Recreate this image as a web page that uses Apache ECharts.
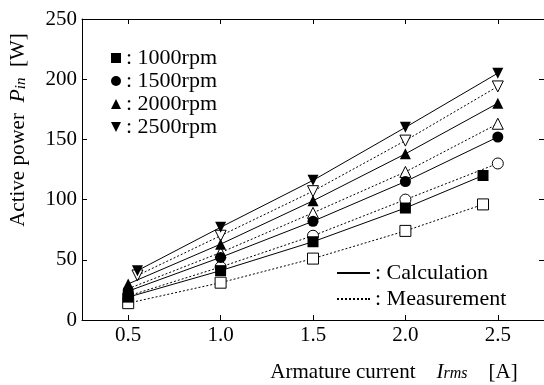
<!DOCTYPE html>
<html>
<head>
<meta charset="utf-8">
<script src="https://cdn.jsdelivr.net/npm/echarts@6/dist/echarts.min.js"></script>
<style>
  html, body { margin: 0; padding: 0; background: #fff; }
  #main { width: 544px; height: 385px; }
</style>
</head>
<body>
<div id="main"></div>
<script>
// tick positions on the current axis
const xTicks = [0.5, 1.0, 1.5, 2.0, 2.5];
const speeds = ['1000rpm', '1500rpm', '2000rpm', '2500rpm'];
const lineKinds = ['Calculation', 'Measurement'];

// [current A, power W]
const calc1000 = [[0.5, 19], [1.0, 41], [1.5, 65], [2.0, 93], [2.42, 120]];
const meas1000 = [[0.5, 14], [1.0, 31], [1.5, 51], [2.0, 74], [2.42, 96]];
const calc1500 = [[0.5, 24], [1.0, 52], [1.5, 82], [2.0, 115], [2.5, 152]];
const meas1500 = [[0.5, 20], [1.0, 44], [1.5, 70], [2.0, 100], [2.5, 130]];
const calc2000 = [[0.5, 30], [1.0, 63], [1.5, 99], [2.0, 138], [2.5, 180]];
const meas2000 = [[0.5, 26], [1.0, 56], [1.5, 89], [2.0, 123], [2.5, 163]];
const calc2500 = [[0.55, 41], [1.0, 77], [1.5, 116], [2.0, 160], [2.5, 205]];
const meas2500 = [[0.55, 37], [1.0, 70], [1.5, 107], [2.0, 149], [2.5, 194]];

const calcData = [calc1000, calc1500, calc2000, calc2500];
const measData = [meas1000, meas1500, meas2000, meas2500];

const FONT = "'Liberation Serif', 'Times New Roman', serif";
const markers = ['rect', 'circle', 'triangle', 'path://M0,0L10,0L5,10Z'];
// legend icons for the two line styles
const solidIcon = 'path://M0,0h33v1.6h-33z';
const dottedIcon = 'path://M0,0h2v1h-2zM4,0h2v1h-2zM8,0h2v1h-2zM12,0h2v1h-2zM16,0h2v1h-2zM20,0h2v1h-2zM24,0h2v1h-2zM28,0h2v1h-2zM31,0h2v1h-2z';

const chart = echarts.init(document.getElementById('main'), null, { renderer: 'canvas' });

const series = [];
speeds.forEach((s, i) => {
  // calculation: filled marker, solid line
  series.push({
    name: s,
    type: 'line',
    data: calcData[i],
    symbol: markers[i],
    symbolSize: 11,
    lineStyle: { color: '#000', width: 1 },
    itemStyle: { color: '#000' },
    z: 3,
  });
  // measurement: open marker, dotted line
  series.push({
    name: s + ' meas',
    type: 'line',
    data: measData[i],
    symbol: markers[i],
    symbolSize: 11,
    lineStyle: { color: '#000', width: 1, type: [2, 2] },
    itemStyle: { color: '#fff', borderColor: '#000', borderWidth: 1 },
    z: 2,
  });
});
// empty series, only for the line-style legend
lineKinds.forEach(k => {
  series.push({ name: k, type: 'line', data: [], symbol: 'none', itemStyle: { color: '#000' }, lineStyle: { color: '#000' } });
});

const axisText = { color: '#000', fontFamily: FONT, fontSize: 21 };
const boxLine = { onZero: false, lineStyle: { color: '#000', width: 1 } };
const inTick = { show: true, inside: true, length: 5, lineStyle: { color: '#000' } };

chart.setOption({
  animation: false,
  backgroundColor: '#fff',
  grid: { left: 82, top: 19, right: -1, bottom: 65 },
  xAxis: [
    {
      type: 'value', min: 0.25, max: 2.75, position: 'bottom',
      axisLine: boxLine,
      axisTick: { ...inTick, customValues: xTicks },
      axisLabel: { ...axisText, margin: 5, customValues: xTicks, formatter: v => v.toFixed(1) },
      splitLine: { show: false },
    },
    {
      type: 'value', min: 0.25, max: 2.75, position: 'top',
      axisLine: boxLine,
      axisTick: { ...inTick, customValues: xTicks },
      axisLabel: { show: false },
      splitLine: { show: false },
    },
  ],
  yAxis: [
    {
      type: 'value', min: 0, max: 250, interval: 50, position: 'left',
      axisLine: { show: true, ...boxLine },
      axisTick: inTick,
      axisLabel: { ...axisText, margin: 5 },
      splitLine: { show: false },
    },
    {
      type: 'value', min: 0, max: 250, interval: 50, position: 'right',
      axisLine: { show: true, ...boxLine },
      axisTick: inTick,
      axisLabel: { show: false },
      splitLine: { show: false },
    },
  ],
  legend: [
    {
      orient: 'vertical', left: 106, top: 42,
      itemWidth: 10, itemHeight: 10, itemGap: 1,
      selectedMode: false,
      data: speeds.map((s, i) => ({ name: s, icon: markers[i] })),
      formatter: ': {name}',
      textStyle: { color: '#000', fontFamily: FONT, fontSize: 22, lineHeight: 21 },
    },
    {
      orient: 'vertical', left: 332, top: 257,
      itemWidth: 33, itemHeight: 2, itemGap: 4,
      symbolKeepAspect: false,
      selectedMode: false,
      data: [{ name: lineKinds[0], icon: solidIcon }, { name: lineKinds[1], icon: dottedIcon }],
      formatter: ': {name}',
      textStyle: { color: '#000', fontFamily: FONT, fontSize: 22, lineHeight: 21 },
    },
  ],
  graphic: [
    {
      type: 'text', x: 18, y: 130, rotation: Math.PI / 2,
      style: {
        text: 'Active power  {i|P}{s|in}  [W]',
        textAlign: 'center', textVerticalAlign: 'middle',
        fill: '#000', font: '21px ' + FONT,
        rich: {
          i: { fontFamily: FONT, fontSize: 22, fontStyle: 'italic', fill: '#000' },
          s: { fontFamily: FONT, fontSize: 15, fontStyle: 'italic', fill: '#000', padding: [6, 0, 0, 0] },
        },
      },
    },
    {
      type: 'text', x: 394, y: 372,
      style: {
        text: 'Armature current    {i|I}{s|rms}    [A]',
        textAlign: 'center', textVerticalAlign: 'middle',
        fill: '#000', font: '21px ' + FONT,
        rich: {
          i: { fontFamily: FONT, fontSize: 21, fontStyle: 'italic', fill: '#000' },
          s: { fontFamily: FONT, fontSize: 16, fontStyle: 'italic', fill: '#000', padding: [3, 0, 0, 0] },
        },
      },
    },
  ],
  series: series,
});
</script>
</body>
</html>
